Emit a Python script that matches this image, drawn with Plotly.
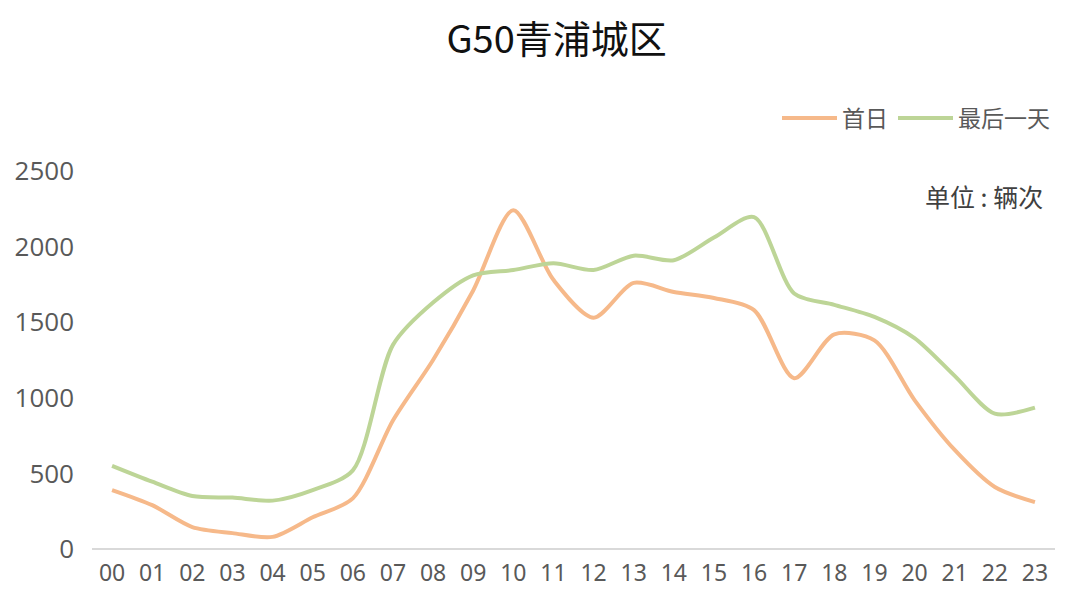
import plotly.graph_objects as go

hours = [f"{h:02d}" for h in range(24)]
first_day = [390, 290, 145, 105, 80, 210, 335, 850, 1250, 1710, 2240, 1780, 1530, 1760, 1700, 1660, 1580, 1130, 1420, 1380, 985, 655, 410, 310]
last_day = [550, 445, 350, 340, 320, 390, 520, 1350, 1630, 1810, 1845, 1890, 1845, 1940, 1910, 2060, 2195, 1690, 1615, 1535, 1395, 1145, 895, 935]

fig = go.Figure()
fig.add_trace(go.Scatter(x=hours, y=first_day, name="首日", mode="lines",
                         line=dict(color="#F6B98A", width=4, shape="spline", smoothing=0.8)))
fig.add_trace(go.Scatter(x=hours, y=last_day, name="最后一天", mode="lines",
                         line=dict(color="#BDD597", width=4, shape="spline", smoothing=0.8)))

fig.update_layout(
    width=1080, height=612,
    paper_bgcolor="white", plot_bgcolor="white",
    margin=dict(l=84, r=33, t=163, b=71),
    title=dict(text="G50青浦城区", x=0.508, xanchor="center", yref="container", y=0.948, yanchor="middle",
               font=dict(family="Noto Sans CJK SC", size=38, color="#111111")),
    legend=dict(orientation="h", x=1.0, xanchor="right", yref="container", y=0.82, yanchor="middle",
                font=dict(family="Noto Sans CJK SC", size=23, color="#595959"),
                itemwidth=55, bgcolor="rgba(0,0,0,0)", traceorder="normal"),
    font=dict(family="Noto Sans CJK SC", color="#595959"),
    showlegend=True,
)

fig.update_xaxes(type="category", range=[-0.5, 23.5], showgrid=False, zeroline=False,
                 showline=False, ticks="", automargin=False, ticklabelstandoff=8,
                 tickfont=dict(family="Noto Sans", size=23, color="#595959"))
fig.update_yaxes(range=[0, 2500], dtick=500, showgrid=False, zeroline=True,
                 zerolinecolor="#D9D9D9", zerolinewidth=2, showline=False, ticks="",
                 automargin=False,
                 tickfont=dict(family="Open Sans", size=26, color="#595959"), ticklabelstandoff=17)

fig.add_annotation(text="单位 : 辆次", xref="paper", yref="paper", x=0.99, y=0.935,
                   xanchor="right", yanchor="middle", showarrow=False,
                   font=dict(family="Noto Sans CJK SC", size=25, color="#404040"))

fig.write_html("out.html")
